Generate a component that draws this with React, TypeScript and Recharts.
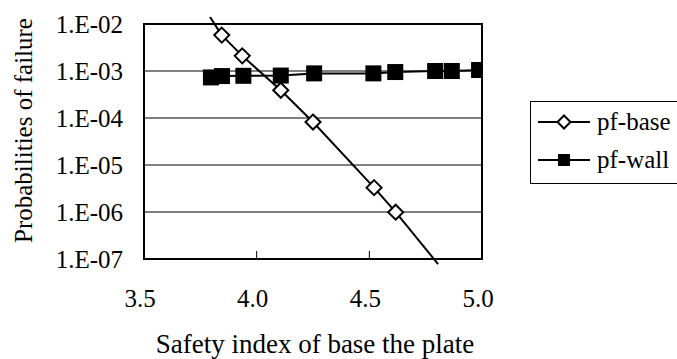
import React from 'react';
import { LineChart, Line, XAxis, YAxis, CartesianGrid, ReferenceArea, ReferenceLine, Legend } from 'recharts';

const FONT = '"Liberation Serif", "Times New Roman", serif';

// pf-base (diamonds)
const baseIndex = [3.845, 3.936, 4.107, 4.25, 4.521, 4.617];
const basePf = [5.8e-3, 2.1e-3, 3.9e-4, 8.2e-5, 3.3e-6, 9.9e-7];
// the straight line through pf-base runs past the first and last marker
const trendIndex = [3.793, 4.805];
const trendPf = [1.41e-2, 7.8e-8];

// pf-wall (squares)
const wallIndex = [3.797, 3.846, 3.941, 4.107, 4.255, 4.518, 4.615, 4.792, 4.866, 4.987];
const wallPf = [7.3e-4, 7.8e-4, 7.9e-4, 8.0e-4, 8.9e-4, 8.9e-4, 9.5e-4, 1.0e-3, 1.0e-3, 1.05e-3];

const xTicks = [3.5, 4.0, 4.5, 5.0];
const yTicks = [1e-7, 1e-6, 1e-5, 1e-4, 1e-3, 1e-2];
const yTickLabels = ['1.E-07', '1.E-06', '1.E-05', '1.E-04', '1.E-03', '1.E-02'];

const baseData = baseIndex.map((x, i) => ({ x, pf: basePf[i] }));
const wallData = wallIndex.map((x, i) => ({ x, pf: wallPf[i] }));

const Diamond = ({ cx, cy, r = 7.5 }: any) => (
  <polygon
    points={`${cx},${cy - r} ${cx + r},${cy} ${cx},${cy + r} ${cx - r},${cy}`}
    fill="#fff"
    stroke="#000"
    strokeWidth={2}
  />
);

const Square = ({ cx, cy, s = 16 }: any) => (
  <rect x={cx - s / 2} y={cy - s / 2} width={s} height={s} fill="#000" />
);

const XTick = ({ x, y, payload }: any) => (
  <g>
    <line x1={x} x2={x} y1={y - 30} y2={y - 38} stroke="#000" strokeWidth={1} />
    <text x={x - 4} y={y} dy="0.71em" textAnchor="middle" fontFamily={FONT} fontSize={25} fill="#000">
      {payload.value.toFixed(1)}
    </text>
  </g>
);

const LegendBox = () => {
  const rows = [
    { name: 'pf-base', icon: <Diamond cx={26} cy={19} r={6.5} /> },
    { name: 'pf-wall', icon: <Square cx={26} cy={19} s={12} /> },
  ];
  return (
    <div style={{ border: '1px solid #000', width: 200, height: 80, paddingTop: 1, boxSizing: 'content-box', background: '#fff' }}>
      {rows.map((r) => (
        <div key={r.name} style={{ display: 'flex', alignItems: 'center', height: 38, paddingLeft: 7 }}>
          <svg width={52} height={38}>
            <line x1={0} x2={52} y1={19} y2={19} stroke="#000" strokeWidth={2} />
            {r.icon}
          </svg>
          <span style={{ marginLeft: 7, fontFamily: FONT, fontSize: 25, color: '#000', lineHeight: '38px' }}>{r.name}</span>
        </div>
      ))}
    </div>
  );
};

export default function App() {
  return (
    <div style={{ position: 'fixed', left: 0, top: 0, width: 677, height: 359, overflow: 'hidden', background: '#fff' }}>
      <LineChart width={677} height={359} margin={{ top: 24, right: 195, bottom: 0, left: 0 }}>
        <CartesianGrid horizontal vertical={false} stroke="#000" strokeWidth={1} />
        <XAxis
          type="number"
          dataKey="x"
          domain={[3.5, 5.0]}
          ticks={xTicks}
          allowDataOverflow
          axisLine={false}
          tickLine={false}
          tickSize={28}
          tickMargin={2}
          height={100}
          tick={<XTick />}
          label={{
            content: ({ viewBox }: any) => (
              <text
                x={viewBox.x + viewBox.width / 2 + 2}
                y={viewBox.y + viewBox.height - 6}
                textAnchor="middle"
                fontFamily={FONT}
                fontSize={27}
                fill="#000"
              >
                Safety index of base the plate
              </text>
            ),
          }}
        />
        <YAxis
          type="number"
          scale="log"
          domain={[1e-7, 1e-2]}
          ticks={yTicks}
          allowDataOverflow
          width={144}
          axisLine={false}
          tickLine={false}
          tickSize={19}
          tickMargin={2}
          tickFormatter={(v: number) => yTickLabels[yTicks.findIndex((t) => Math.abs(Math.log10(t) - Math.log10(v)) < 0.01)]}
          tick={{ fontFamily: FONT, fontSize: 25, fill: '#000' }}
          label={{
            content: ({ viewBox }: any) => {
              const cx = 23;
              const cy = viewBox.y + viewBox.height / 2 - 11;
              return (
                <text
                  x={cx}
                  y={cy}
                  dy="0.355em"
                  transform={`rotate(-90, ${cx}, ${cy})`}
                  textAnchor="middle"
                  fontFamily={FONT}
                  fontSize={25}
                  fill="#000"
                >
                  Probabilities of failure
                </text>
              );
            },
          }}
        />
        <ReferenceArea x1={3.5} x2={5.0} y1={1e-7} y2={1e-2} fill="none" stroke="#000" strokeWidth={2} ifOverflow="visible" />
        <ReferenceLine
          segment={[{ x: trendIndex[0], y: trendPf[0] }, { x: baseIndex[0], y: basePf[0] }]}
          stroke="#000"
          strokeWidth={2}
          ifOverflow="visible"
        />
        <ReferenceLine
          segment={[{ x: baseIndex[baseIndex.length - 1], y: basePf[basePf.length - 1] }, { x: trendIndex[1], y: trendPf[1] }]}
          stroke="#000"
          strokeWidth={2}
          ifOverflow="visible"
        />
        <Line
          data={wallData}
          dataKey="pf"
          name="pf-wall"
          type="linear"
          stroke="#000"
          strokeWidth={2}
          dot={(p: any) => <Square key={`w${p.index}`} cx={p.cx} cy={p.cy} />}
          activeDot={false}
          isAnimationActive={false}
        />
        <Line
          data={baseData}
          dataKey="pf"
          name="pf-base"
          type="linear"
          stroke="#000"
          strokeWidth={2}
          dot={(p: any) => <Diamond key={`b${p.index}`} cx={p.cx} cy={p.cy} />}
          activeDot={false}
          isAnimationActive={false}
        />
        <Legend
          layout="vertical"
          align="center"
          verticalAlign="middle"
          wrapperStyle={{ left: 530, top: 101, width: 210 }}
          content={() => <LegendBox />}
        />
      </LineChart>
    </div>
  );
}
